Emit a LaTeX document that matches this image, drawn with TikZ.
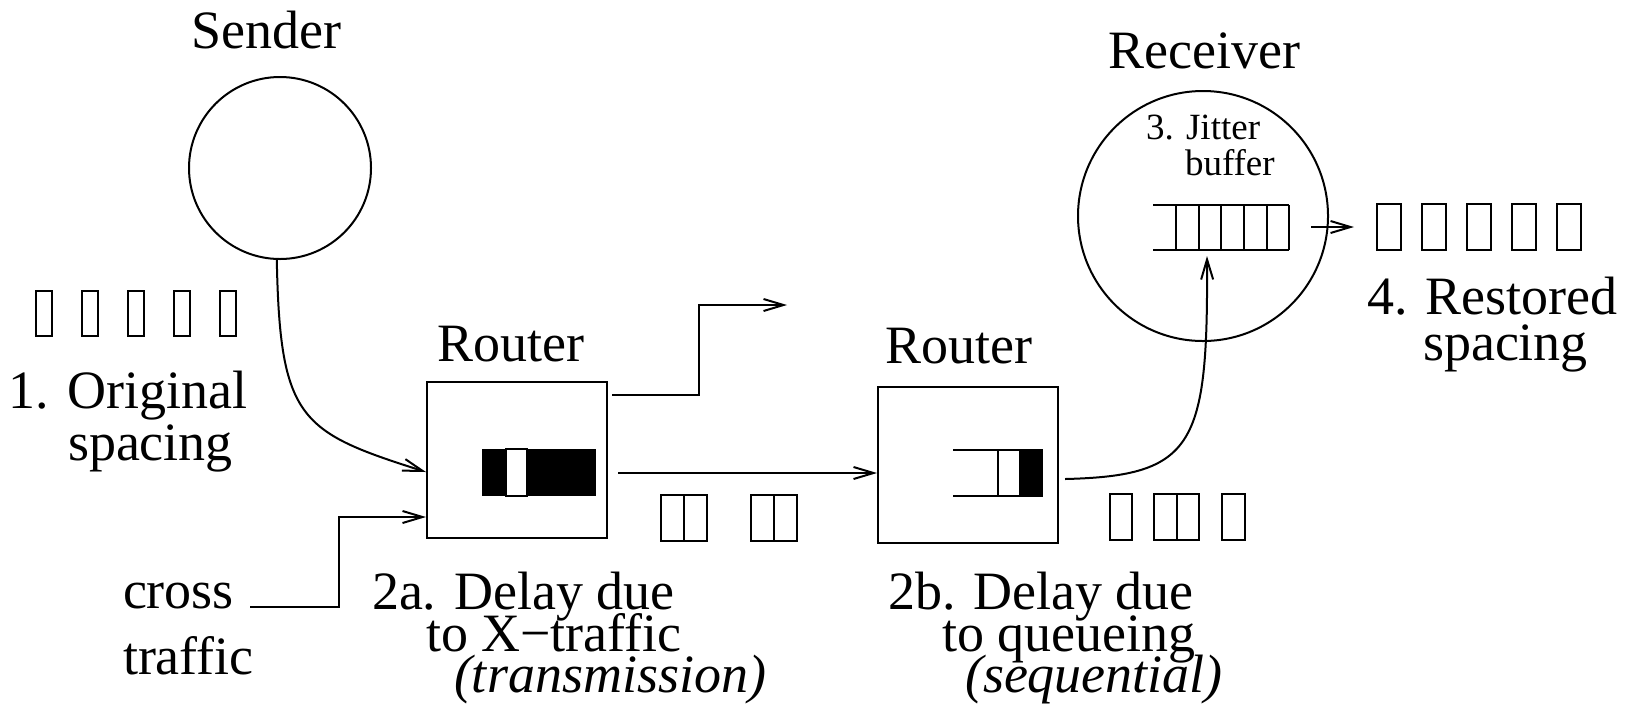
\documentclass[tikz,border=0pt]{standalone}
\usepackage{fontspec}
\setmainfont{Liberation Serif}
\usetikzlibrary{arrows.meta,positioning}

\begin{document}
\begin{tikzpicture}[x=0.5pt,y=-0.5pt,line width=1pt,
    arr/.style={-{Straight Barb[length=10pt,width=6pt]}},
    txt/.style={inner sep=0pt,anchor=base west,font=\fontsize{27}{30}\selectfont},
    ctxt/.style={txt,anchor=base},
    smalltxt/.style={txt,font=\fontsize{18.5}{21}\selectfont},
    router/.style={draw,minimum width=90pt,minimum height=78pt,inner sep=0pt}]
\useasboundingbox (0,0) rectangle (1625,713);

% hosts and routers
\node (snd) [draw,circle,minimum size=91pt,inner sep=0pt] at (280,168) {};
\node (rcv) [draw,circle,minimum size=125pt,inner sep=0pt] at (1203,216) {};
\node (r1) [router] at (517,460) {};
\node (r2) [router] at (968,465) {};

\node (sndlbl) [ctxt] at (266,48) {Sender};
\node (rcvlbl) [ctxt] at (1204,68) {Receiver};
\node (r1lbl) [ctxt] at (511,361) {Router};
\node (r2lbl) [ctxt] at (959,363) {Router};

% queues inside the routers
\fill (482,449) rectangle (596,496);
\filldraw[fill=white] (506,449) rectangle (527,496);
\draw (953,450) -- (1043,450);
\draw (953,496) -- (1043,496);
\draw (998,450) -- (998,496);
\fill (1019,450) rectangle (1043,496);

% jitter buffer
\draw (1153,205) -- (1289,205);
\draw (1153,250) -- (1289,250);
\foreach \bx in {1176,1199,1221,1244,1267,1289}
    \draw (\bx,205) -- (\bx,250);

% packets
\foreach \px in {36,82,128,174,220}
    \draw (\px,291) rectangle ++(16,45);
\foreach \px in {661,751} {
    \draw (\px,495) rectangle ++(46,46);
    \draw (\px+23,495) -- ++(0,46);}
\draw (1110,494) rectangle ++(22,46);
\draw (1154,494) rectangle ++(45,46);
\draw (1177,494) -- ++(0,46);
\draw (1222,494) rectangle ++(23,46);
\foreach \px in {1377,1422,1467,1512,1557}
    \draw (\px,204) rectangle ++(24,46);

% connectors
\coordinate (xt) at (250,607);
\coordinate (xo) at (787,305);
\coordinate (jbin) at (1207,256);
\coordinate (jbout) at (1311,227);
\coordinate (rsp) at (1354,227);

\draw[arr] (snd.-92) .. controls (280,420) and (300,432) .. ([yshift=-6pt]r1.west);
\draw[arr] (xt) -| (339,517) -- ([yshift=-28.5pt]r1.west);
\draw[arr] ([xshift=2pt,yshift=32.5pt]r1.east) -| ([xshift=-44pt]xo) -- (xo);
\draw[arr] ([xshift=5pt,yshift=-6.5pt]r1.east) -- ([yshift=-4pt]r2.west);
\draw[arr] ([xshift=3pt,yshift=-7pt]r2.east) .. controls (1195,476) and (1208,445) .. (jbin);
\draw[arr] (jbout) -- (rsp);

% step labels
\node (orig1) [txt] at (8,408) {1. Original};
\node (orig2) [txt] at (67,460) {spacing};
\node (xt1) [txt] at (122,608) {cross};
\node (xt2) [txt] at (122,674) {traffic};
\node (da1) [txt] at (371,609) {2a. Delay due};
\node (da2) [txt] at (425,651) {to X−traffic};
\node (da3) [txt] at (453,692) {\itshape (transmission)};
\node (db1) [txt] at (887,609) {2b. Delay due};
\node (db2) [txt] at (941,651) {to queueing};
\node (db3) [txt] at (964,692) {\itshape (sequential)};
\node (jit1) [smalltxt] at (1145,139) {3. Jitter};
\node (jit2) [smalltxt] at (1184,175) {buffer};
\node (rst1) [txt] at (1366,314) {4. Restored};
\node (rst2) [txt] at (1422,360) {spacing};

\end{tikzpicture}
\end{document}
